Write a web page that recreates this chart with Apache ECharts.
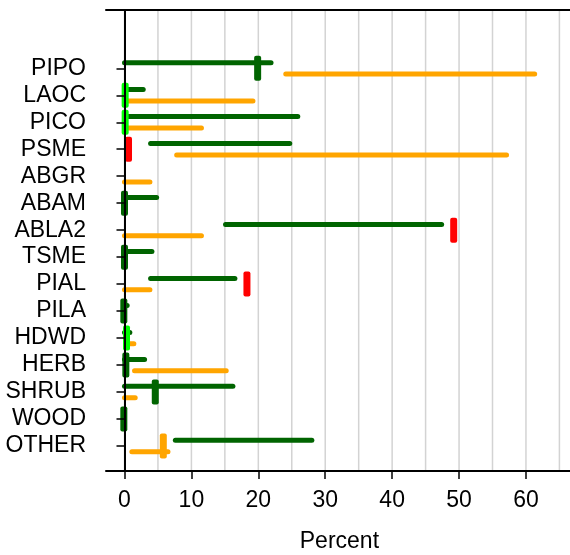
<!DOCTYPE html>
<html>
<head>
<meta charset="utf-8">
<script src="https://cdn.jsdelivr.net/npm/echarts@6/dist/echarts.min.js"></script>
<style>
  html, body { margin: 0; padding: 0; background: #fff; }
  #chart { width: 570px; height: 555px; }
</style>
</head>
<body>
<div id="chart"></div>
<script>
// categories, top to bottom
var categories = ['PIPO', 'LAOC', 'PICO', 'PSME', 'ABGR', 'ABAM', 'ABLA2', 'TSME',
                  'PIAL', 'PILA', 'HDWD', 'HERB', 'SHRUB', 'WOOD', 'OTHER'];

// dark green ranges (upper line of each row)
var greenLo = [0,    0,   0,    3.9,  null, 0,   15.1, 0,   3.9,  0,   0,   0,   0,    null, 7.6];
var greenHi = [21.9, 2.8, 25.9, 24.7, null, 4.8, 47.4, 4.1, 16.5, 0.4, 0.8, 3.0, 16.2, null, 28.0];

// orange ranges (lower line of each row)
var orangeLo = [24.1, 0.5,  0.5,  7.8,  0,   null, 0,    null, 0,   null, 0.8, 1.5,  0,   null, 1.1];
var orangeHi = [61.3, 19.2, 11.5, 57.1, 3.8, null, 11.5, null, 3.8, null, 1.4, 15.2, 1.6, null, 6.5];

// short vertical marks
var markValue = [19.9, 0.1,  0.1,  0.6, null, 0,      49.2, 0,      18.3, -0.1,   0.3,  0.2,    4.6,    -0.1,   5.8];
var markKind  = ['dark', 'lime', 'lime', 'red', null, 'dark', 'red', 'dark', 'red', 'dark', 'lime', 'dark', 'dark', 'dark', 'orange'];

var xTicks = [0, 10, 20, 30, 40, 50, 60];
var gridVals = [0, 5, 10, 15, 20, 25, 30, 35, 40, 45, 50, 55, 60, 65];

var palette = { dark: '#006400', lime: '#00ff00', red: '#ff0000', orange: '#ffa500' };
var xMin = -2.764, xMax = 67;
var yMin = 0.073, yMax = 17.161;
var n = categories.length;
var rowTicks = categories.map(function (c, i) { return n - i; });

var greenData = [], orangeData = [], markData = [], markColors = [];
categories.forEach(function (c, i) {
  var y = n - i;
  if (greenLo[i] != null) greenData.push([greenLo[i], greenHi[i], y + 0.21]);
  if (orangeLo[i] != null) orangeData.push([orangeLo[i], orangeHi[i], y - 0.21]);
  if (markValue[i] != null) {
    markData.push([markValue[i], y]);
    markColors.push(palette[markKind[i]]);
  }
});

function renderRange(params, api) {
  var a = api.coord([api.value(0), api.value(2)]);
  var b = api.coord([api.value(1), api.value(2)]);
  return {
    type: 'line',
    shape: { x1: a[0], y1: a[1], x2: b[0], y2: b[1] },
    style: { stroke: api.visual('color'), lineWidth: 5, lineCap: 'round' }
  };
}

function renderMark(params, api) {
  var p = api.coord([api.value(0), api.value(1)]);
  return {
    type: 'rect',
    shape: { x: p[0] - 3.5, y: p[1] - 12.5, width: 7, height: 25, r: 2 },
    style: { fill: markColors[params.dataIndex] }
  };
}

function renderGrid(params, api) {
  var a = api.coord([api.value(0), yMin]);
  var b = api.coord([api.value(0), yMax]);
  return {
    type: 'line',
    shape: { x1: a[0], y1: a[1], x2: b[0], y2: b[1] },
    style: { stroke: '#d3d3d3', lineWidth: 1.5 }
  };
}

var font = 'Liberation Sans, Arial, sans-serif';
var chart = echarts.init(document.getElementById('chart'));
chart.setOption({
  animation: false,
  grid: { left: 106, top: 10, width: 466.8, height: 461, containLabel: false, outerBoundsMode: 'none' },
  xAxis: [{
    type: 'value', min: xMin, max: xMax, position: 'bottom', z: 5,
    name: 'Percent', nameLocation: 'middle', nameGap: 59,
    nameTextStyle: { fontFamily: font, fontSize: 23, color: '#000' },
    axisLine: { show: true, lineStyle: { color: '#000', width: 2 } },
    axisTick: { show: true, customValues: xTicks, length: 8, lineStyle: { color: '#000', width: 1.5 } },
    axisLabel: { customValues: xTicks, margin: 18, fontFamily: font, fontSize: 23, color: '#000' },
    splitLine: { show: false }
  }, {
    type: 'value', min: xMin, max: xMax, position: 'top', z: 5,
    axisLine: { show: true, lineStyle: { color: '#000', width: 2 } },
    axisTick: { show: false }, axisLabel: { show: false }, splitLine: { show: false }
  }],
  yAxis: {
    type: 'value', min: yMin, max: yMax, z: 5,
    axisLine: { show: true, lineStyle: { color: '#000', width: 2 } },
    axisTick: { show: true, customValues: rowTicks, length: 8, lineStyle: { color: '#000', width: 1.5 } },
    axisLabel: {
      customValues: rowTicks, margin: 20, fontFamily: font, fontSize: 23, color: '#000',
      formatter: function (v) { return categories[n - Math.round(v)]; }
    },
    splitLine: { show: false }
  },
  series: [
    { type: 'custom', name: 'grid', renderItem: renderGrid, data: gridVals.map(function (v) { return [v]; }),
      encode: { x: 0 }, silent: true, z: 1 },
    { type: 'custom', name: 'green', renderItem: renderRange, data: greenData,
      encode: { x: [0, 1], y: 2 }, itemStyle: { color: '#006400' }, clip: true, z: 2 },
    { type: 'custom', name: 'orange', renderItem: renderRange, data: orangeData,
      encode: { x: [0, 1], y: 2 }, itemStyle: { color: '#ffa500' }, clip: true, z: 2 },
    { type: 'custom', name: 'marks', renderItem: renderMark, data: markData,
      encode: { x: 0, y: 1 }, clip: true, z: 3 }
  ]
});
</script>
</body>
</html>
